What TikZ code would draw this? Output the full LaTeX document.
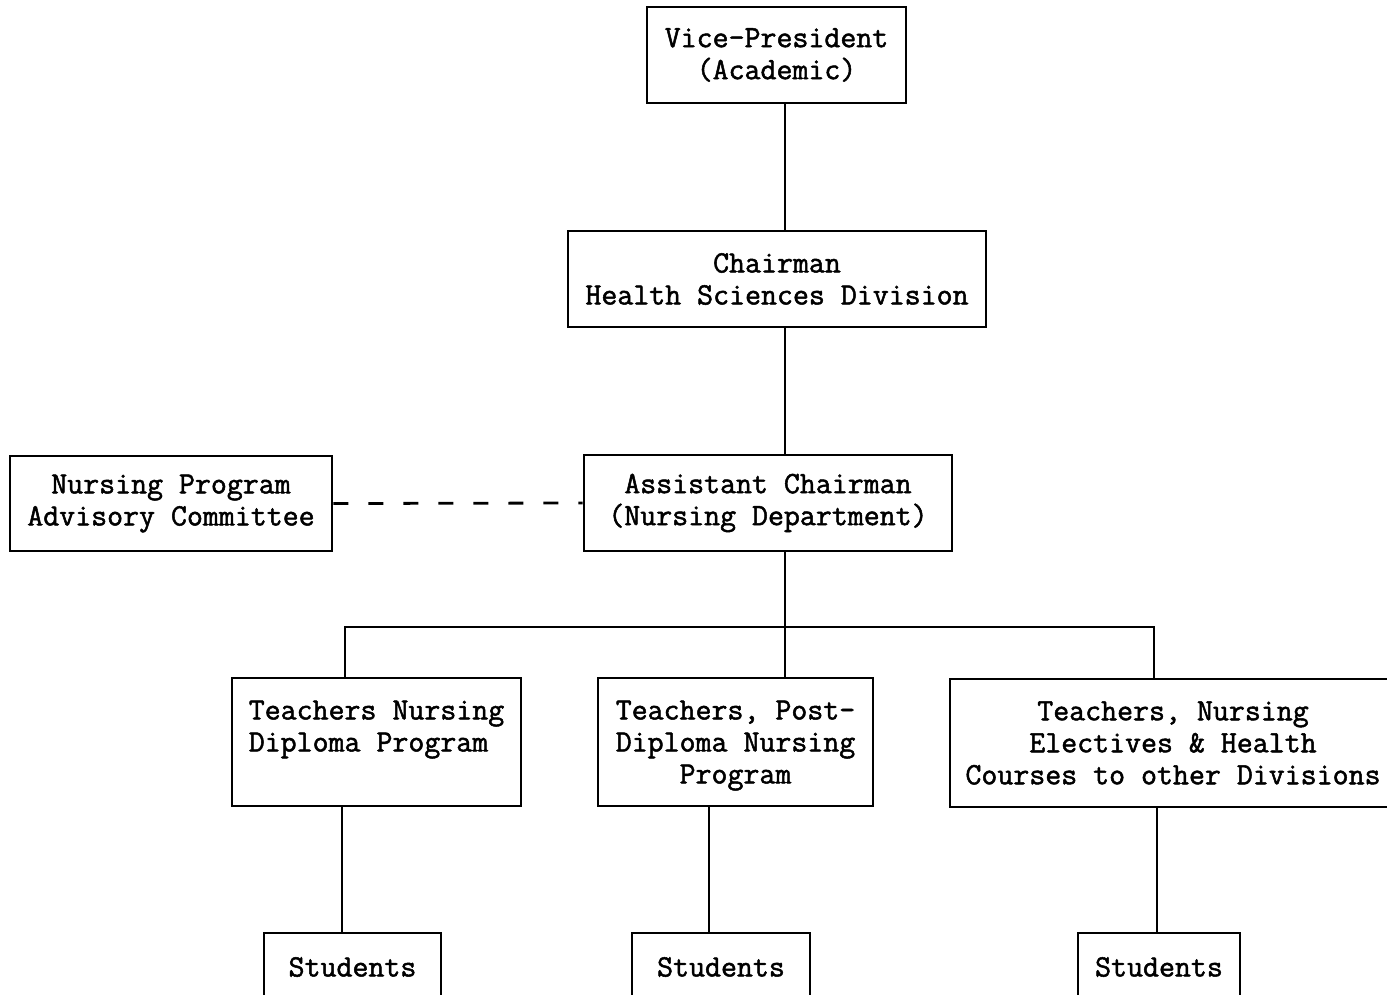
\documentclass[tikz,border=0pt]{standalone}
\usepackage{fontspec}
\setmonofont[FakeBold=1.6]{Latin Modern Mono}
\usetikzlibrary{calc}

\begin{document}
\begin{tikzpicture}[x=0.5pt, y=-0.5pt,
        box/.style={draw, line width=1.4pt, align=center, inner sep=0pt,
            font=\ttfamily\fontsize{15.5}{16}\selectfont},
        link/.style={line width=1.4pt}]
    \useasboundingbox (0,0) rectangle (1387,995);

    % upper chain
    \node[box, minimum width=129.5pt, minimum height=48pt] (vp) at (776.5,55) {Vice-President\\(Academic)};
    \node[box, minimum width=209pt, minimum height=48pt] (chair) at (777,279) {Chairman\\Health Sciences Division};
    \node[box, minimum width=184pt, minimum height=48pt] (asst) at (768,503) {Assistant Chairman\\(Nursing Department)};
    \node[box, minimum width=161pt, minimum height=47.5pt] (adv) at (171,503.5) {Nursing Program\\Advisory Committee};

    % teachers
    \node[box, align=left, minimum width=144.5pt, minimum height=64pt] (tdip) at (376.5,742) {Teachers Nursing\\Diploma Program\\\mbox{}};
    \node[box, text depth=0pt, minimum width=137.5pt, minimum height=64pt] (tpost) at (735.5,742) {Teachers, Post-\\Diploma Nursing\\Program};
    \node[box, minimum width=223pt, minimum height=64pt] (telec) at (1173,743) {Teachers, Nursing\\Electives \& Health\\Courses to other Divisions};

    % students
    \node[box, minimum width=88.5pt, minimum height=34pt] (sdip) at (352.5,967) {Students};
    \node[box, minimum width=89pt, minimum height=34pt] (spost) at (721,967) {Students};
    \node[box, minimum width=81pt, minimum height=34pt] (selec) at (1159,967) {Students};

    \coordinate (spine) at (785,627);
    \coordinate (busL) at (345,627);
    \coordinate (busR) at (1154,627);
    \coordinate (dropdip) at (342,0);
    \coordinate (droppost) at (709,0);
    \coordinate (dropelec) at (1157,0);

    \draw[link] (vp.south -| spine) -- (chair.north -| spine);
    \draw[link] (chair.south -| spine) -- (asst.north -| spine);
    \draw[link] (asst.south -| spine) -- (tpost.north -| spine);
    \draw[link] (tdip.north -| busL) -- (busL) -- (busR) -- (telec.north -| busR);
    \draw[link, dash pattern=on 7.5pt off 10pt] (adv.east) -- (asst.west);

    \draw[link] (tdip.south -| dropdip) -- (sdip.north -| dropdip);
    \draw[link] (tpost.south -| droppost) -- (spost.north -| droppost);
    \draw[link] (telec.south -| dropelec) -- (selec.north -| dropelec);
\end{tikzpicture}
\end{document}
